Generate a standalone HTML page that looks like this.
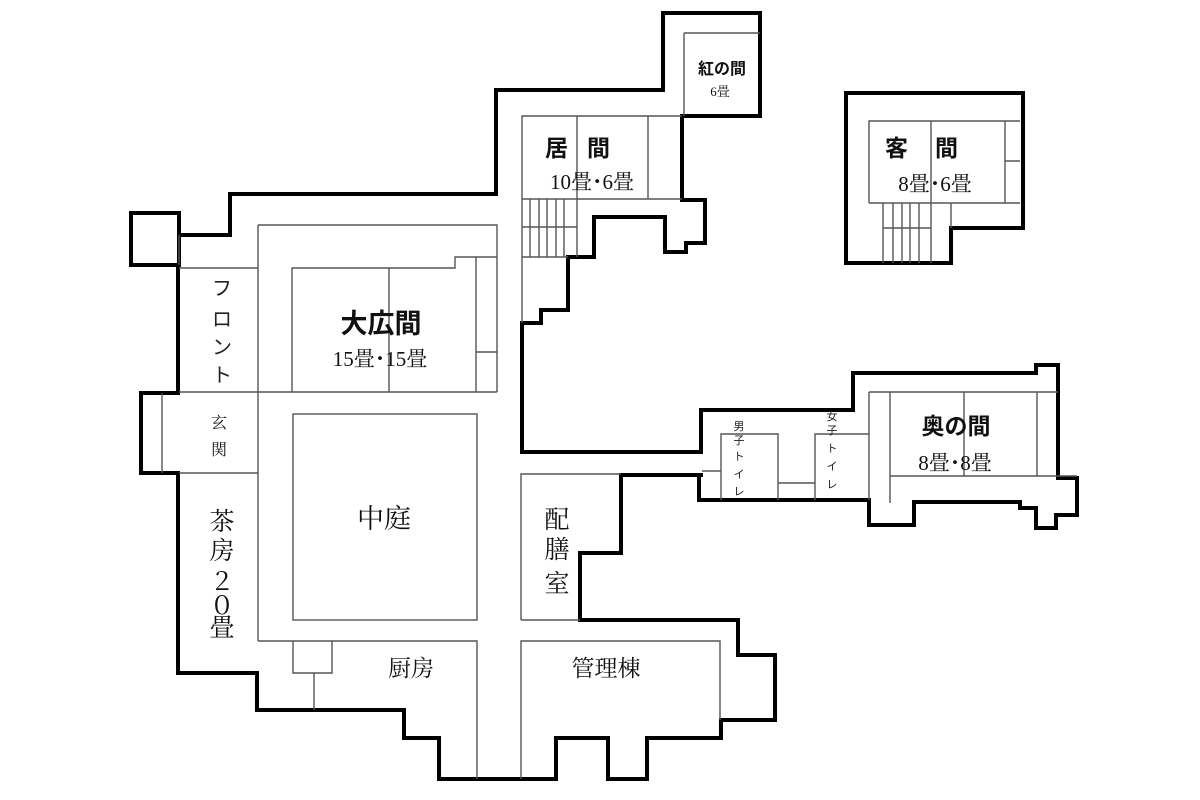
<!DOCTYPE html>
<html><head><meta charset="utf-8"><style>
html,body{margin:0;padding:0;background:#fff;}
svg{display:block;}
.t{stroke:#000;stroke-width:4;fill:none;stroke-linejoin:miter;stroke-linecap:square}
.n{stroke:#555;stroke-width:1.4;fill:none}
.s{font-family:"Liberation Serif","Noto Serif CJK SC","Noto Sans CJK JP",serif;fill:#111}
.b{font-family:"Liberation Sans","Noto Sans CJK JP",sans-serif;fill:#111;font-weight:bold}
.g{font-family:"Liberation Sans","Noto Sans CJK JP",sans-serif;fill:#222}
</style></head><body>
<svg width="1200" height="800" viewBox="0 0 1200 800" xmlns="http://www.w3.org/2000/svg">
<path class="t" d="M179,235 L230,235 L230,194 L496,194 L496,90 L663,90 L663,13 L760,13 L760,116 L682,116 L682,200 L705,200 L705,243 L686,243 L686,252 L665,252 L665,217 L594,217 L594,257 L568,257 L568,310 L541,310 L541,323 L522,323 L522,452 L701,452 L701,410 L853,410 L853,373 L1036,373 L1036,365 L1058,365 L1058,478 L1077,478 L1077,515 L1056,515 L1056,528 L1036,528 L1036,508 L1020,508 L1020,502 L914,502 L914,525 L869,525 L869,500 L699,500 L699,475"/>
<path class="t" d="M701,475 L621,475 L621,553 L580,553 L580,620 L738,620 L738,655 L775,655 L775,720 L721,720 L721,738 L647,738 L647,779 L608,779 L608,738 L556,738 L556,779 L439,779 L439,738 L404,738 L404,710 L257,710 L257,673 L178,673 L178,473 L141,473 L141,393 L178,393 L178,265"/>
<path class="t" d="M131,213 L179,213 L179,265 L131,265 Z"/>
<path class="t" d="M846,93 L1023,93 L1023,228 L951,228 L951,263 L846,263 Z"/>
<path class="n" d="M179,235 L179,265 M179,268 L258,268 M258,225 L497,225 L497,392 M179,392 L497,392 M258,225 L258,641"/>
<path class="n" d="M292,392 L292,268 L455,268 L455,257 L497,257 M389,268 L389,392 M476,257 L476,392 M476,352 L497,352"/>
<path class="n" d="M162,393 L162,473 M179,473 L258,473"/>
<rect class="n" x="293" y="414" width="184" height="206"/>
<path class="n" d="M258,641 L477,641 L477,779 M293,641 L293,673 L332,673 L332,641 M314,673 L314,710"/>
<path class="n" d="M521,779 L521,641 L720,641 L720,720"/>
<path class="n" d="M521,620 L521,474 L621,474 M521,620 L580,620"/>
<path class="n" d="M522,323 L522,116 L682,116 M522,199 L682,199 M577,116 L577,257 M648,116 L648,199 M522,227 L577,227 M530,199 L530,257 M539,199 L539,257 M547,199 L547,257 M556,199 L556,257 M564,199 L564,257 M522,257 L568,257"/>
<path class="n" d="M684,33 L760,33 M684,33 L684,116"/>
<path class="n" d="M869,203 L869,121 L1020,121 M869,203 L1020,203 M931,121 L931,263 M1005,121 L1005,203 M1005,161 L1020,161 M883,228 L931,228 M883,203 L883,263 M893,203 L893,263 M902,203 L902,263 M910,203 L910,263 M919,203 L919,263 M951,203 L951,228"/>
<path class="n" d="M702,471 L721,471 M721,500 L721,434 L778,434 L778,500 M778,483 L815,483 M815,500 L815,434 L869,434 M869,392 L869,500 M869,392 L1058,392 M890,392 L890,503 M964,392 L964,476 M1037,392 L1037,476 M890,476 L1077,476"/>
<text class="b" x="722" y="74" font-size="16" text-anchor="middle">紅の間</text>
<text class="s" x="720" y="96" font-size="13" text-anchor="middle">6畳</text>
<text class="b" x="545" y="156" font-size="23">居</text>
<text class="b" x="587" y="156" font-size="23">間</text>
<text class="s" x="592" y="189" font-size="21" text-anchor="middle">10畳･6畳</text>
<text class="b" x="885" y="156" font-size="23">客</text>
<text class="b" x="935" y="156" font-size="23">間</text>
<text class="s" x="935" y="191" font-size="21" text-anchor="middle">8畳･6畳</text>
<text class="b" x="381" y="333" font-size="27" text-anchor="middle">大広間</text>
<text class="s" x="380" y="366" font-size="21" text-anchor="middle">15畳･15畳</text>
<text class="b" x="956" y="434" font-size="23" text-anchor="middle">奥の間</text>
<text class="s" x="955" y="470" font-size="21" text-anchor="middle">8畳･8畳</text>
<g class="g" font-size="20" text-anchor="middle">
<text x="222" y="295">フ</text><text x="222" y="326">ロ</text><text x="222" y="354">ン</text><text x="222" y="382">ト</text>
</g>
<g class="s" font-size="16" text-anchor="middle"><text x="219" y="428">玄</text><text x="219" y="455">関</text></g>
<g class="s" font-size="25" text-anchor="middle">
<text x="222" y="530">茶</text><text x="222" y="559">房</text><text x="222" y="590">２</text><text x="222" y="614">０</text><text x="222" y="636">畳</text>
</g>
<text class="s" x="384" y="528" font-size="27" text-anchor="middle">中庭</text>
<g class="s" font-size="25" text-anchor="middle"><text x="557" y="528">配</text><text x="557" y="558">膳</text><text x="557" y="592">室</text></g>
<text class="s" x="411" y="676" font-size="23" text-anchor="middle">厨房</text>
<text class="s" x="606" y="676" font-size="23" text-anchor="middle">管理棟</text>
<g class="g" font-size="11" text-anchor="middle"><text x="739" y="430">男</text><text x="739" y="444">子</text><text x="739" y="460">ト</text><text x="739" y="478">イ</text><text x="739" y="495">レ</text></g>
<g class="g" font-size="11" text-anchor="middle"><text x="832" y="420">女</text><text x="832" y="434">子</text><text x="832" y="452">ト</text><text x="832" y="470">イ</text><text x="832" y="488">レ</text></g>
</svg>
</body></html>
